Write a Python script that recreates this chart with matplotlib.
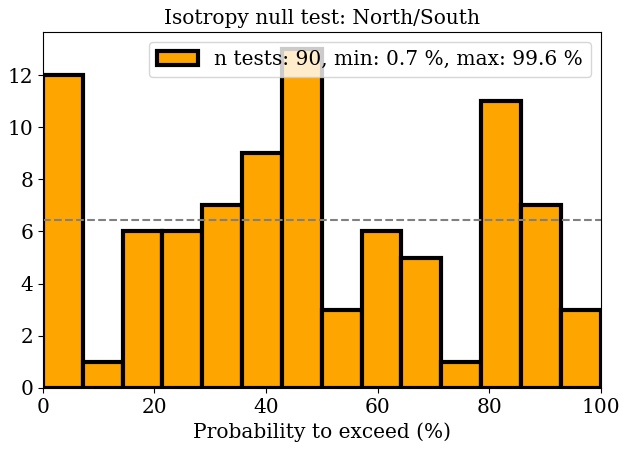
import matplotlib
matplotlib.use("Agg")
import matplotlib.pyplot as plt
import numpy as np

plt.rcParams['font.family'] = ['DejaVu Serif']

counts = [12, 1, 6, 6, 7, 9, 13, 3, 6, 5, 1, 11, 7, 3]
n_bins = 14
x_min, x_max = 0, 100
label = "n tests: 90, min: 0.7 %, max: 99.6 %"
title = "Isotropy null test: North/South"
xlabel = "Probability to exceed (%)"

edges = np.linspace(x_min, x_max, n_bins + 1)
centers = 0.5 * (edges[:-1] + edges[1:])

fig, ax = plt.subplots(figsize=(6.31, 4.51), dpi=100)
ax.hist(centers, bins=edges, weights=counts, color='orange', edgecolor='black',
        linewidth=3, label=label)
ax.axhline(sum(counts) / n_bins, color='grey', linestyle='--', linewidth=1.5)
ax.set_xlim(x_min, x_max)
fs = 14.5
ax.set_title(title, fontsize=fs)
ax.set_xlabel(xlabel, fontsize=fs)
ax.tick_params(labelsize=fs)
ax.legend(loc='upper right', fontsize=fs)
fig.subplots_adjust(left=0.068, right=0.952, top=0.929, bottom=0.140)
fig.savefig("out.png", dpi=100)
